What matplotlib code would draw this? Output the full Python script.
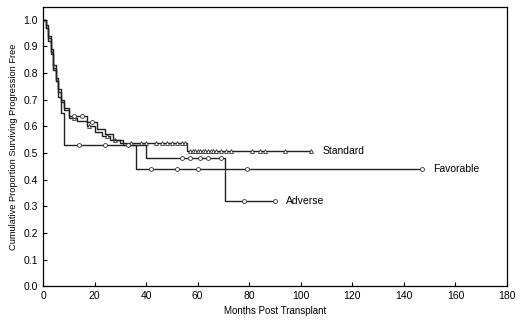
import numpy as np
import matplotlib
matplotlib.use("Agg")
import matplotlib.pyplot as plt

plt.rcParams['font.family'] = ['Liberation Sans', 'DejaVu Sans']

# Kaplan-Meier step data (event times and survival after each step)
fav_t = [0, 1, 2, 3, 4, 5, 6, 7, 8, 36]
fav_s = [1.0, 0.97, 0.93, 0.88, 0.82, 0.77, 0.71, 0.65, 0.53, 0.44]
fav_end = 147
fav_cens = [14, 24, 42, 52, 60, 79, 147]

std_t = [0, 1, 2, 3, 4, 5, 6, 7, 8, 10, 13, 17, 20, 23, 26, 30, 56]
std_s = [1.0, 0.98, 0.94, 0.89, 0.83, 0.78, 0.74, 0.70, 0.67, 0.63, 0.62,
         0.60, 0.58, 0.565, 0.55, 0.537, 0.508]
std_end = 104
std_cens = [12, 18, 25, 28, 34, 38, 40, 44, 46, 48, 50, 52, 54, 55, 57, 58,
            59, 60, 61, 62, 63, 64, 65, 66, 67, 69, 71, 73, 81, 84, 86, 94, 104]

adv_t = [0, 1, 2, 3, 4, 5, 6, 7, 8, 10, 17, 21, 24, 27, 31, 40, 70.5]
adv_s = [1.0, 0.97, 0.92, 0.87, 0.81, 0.77, 0.73, 0.69, 0.66, 0.64, 0.615,
         0.59, 0.57, 0.55, 0.53, 0.48, 0.32]
adv_end = 90
adv_cens = [12, 15, 19, 33, 54, 57, 61, 64, 69, 78, 90]


def step_value(times, surv, t):
    idx = np.searchsorted(times, t, side='right') - 1
    return surv[idx]


fig = plt.figure(figsize=(5.2, 3.27), dpi=100)
ax = fig.add_axes([0.0827, 0.1239, 0.8923, 0.8547])

series = [
    (fav_t, fav_s, fav_end, fav_cens, 'o', 'Favorable'),
    (std_t, std_s, std_end, std_cens, '^', 'Standard'),
    (adv_t, adv_s, adv_end, adv_cens, 'o', 'Adverse'),
]

for t, s, end, cens, mk, name in series:
    tt = list(t) + [end]
    ss = list(s) + [s[-1]]
    ax.step(tt, ss, where='post', color='#222222', lw=1.0)
    cy = [step_value(np.array(t), np.array(s), c) for c in cens]
    ax.plot(cens, cy, linestyle='none', marker=mk, ms=2.8, mfc='white',
            mec='#333333', mew=0.6)
    ax.annotate(name, xy=(end, s[-1]), xytext=(8, 0), textcoords='offset points',
                va='center', ha='left', fontsize=7.5)

ax.set_xlim(0, 180)
ax.set_ylim(0, 1.047)
ax.set_xticks(np.arange(0, 181, 20))
ax.set_yticks(np.arange(0, 1.01, 0.1))
ax.set_yticklabels([f"{v:.1f}" for v in np.arange(0, 1.01, 0.1)])
ax.tick_params(direction='in', length=3, labelsize=7.5, width=0.8)
for sp in ax.spines.values():
    sp.set_linewidth(0.9)

ax.set_xlabel('Months Post Transplant', fontsize=7, labelpad=3)
ax.set_ylabel('Cumulative Proportion Surviving Progression Free', fontsize=6.7,
              labelpad=4)

fig.savefig('out.png', dpi=100)
